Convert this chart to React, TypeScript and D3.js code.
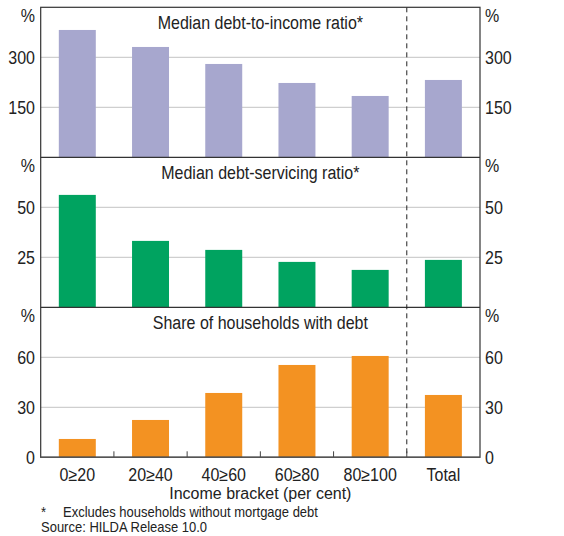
import React from "react";
import * as d3 from "d3";

const categories = ["0≥20", "20≥40", "40≥60", "60≥80", "80≥100", "Total"];
const debtToIncome = [382, 331, 280, 223, 184, 232];
const debtServicing = [56.2, 33.2, 28.7, 22.7, 18.7, 23.7];
const shareWithDebt = [11.0, 22.4, 38.6, 55.4, 60.8, 37.4];

const panelTitles = [
  "Median debt-to-income ratio*",
  "Median debt-servicing ratio*",
  "Share of households with debt",
];
const panelMax = [450, 75, 90];
const panelTicks = [[150, 300], [25, 50], [0, 30, 60]];
const panelColors = ["#A7A7CE", "#00A360", "#F39222"];
const panelData = [debtToIncome, debtServicing, shareWithDebt];

const W = 564;
const H = 536;
const left = 40.7;
const right = 480;
const top0 = 7.3;
const panelH = 150;
const font = "'Liberation Sans', Arial, sans-serif";

function T({ x, y, size = 16, sy = 1.13, anchor = "start", children }: any) {
  return (
    <text
      transform={`translate(${x},${y}) scale(1,${sy})`}
      textAnchor={anchor}
      fontSize={size}
      fill="#222"
    >
      {children}
    </text>
  );
}

export default function App() {
  const x = d3.scaleBand<string>().domain(categories).range([left, right]).paddingInner(0.495).paddingOuter(0.2475);
  const band = d3.scaleBand<string>().domain(categories).range([left, right]).padding(0);
  const dashX = band("Total")!;
  const bottom = top0 + 3 * panelH;

  return (
    <svg width={W} height={H} style={{ position: "absolute", left: 0, top: 0, background: "#fff" }} fontFamily={font}>
      {panelData.map((data, pi) => {
        const pTop = top0 + pi * panelH;
        const y = d3.scaleLinear().domain([0, panelMax[pi]]).range([pTop + panelH, pTop]);
        return (
          <g key={pi}>
            {panelTicks[pi].filter((t) => t > 0).map((t) => (
              <line key={t} x1={left} x2={right} y1={y(t)} y2={y(t)} stroke="#c4c4c4" strokeWidth={1} />
            ))}
            {data.map((v, i) => (
              <rect key={i} x={x(categories[i])!} width={x.bandwidth()} y={y(v)} height={y(0) - y(v)} fill={panelColors[pi]} />
            ))}
            <T x={(left + right) / 2} y={pTop + 22} anchor="middle">{panelTitles[pi]}</T>
            <T x={35} y={pTop + 15} anchor="end">%</T>
            <T x={485} y={pTop + 15}>%</T>
            {panelTicks[pi].map((t) => (
              <g key={"l" + t}>
                <T x={35} y={y(t) + 6.5} anchor="end">{t}</T>
                <T x={485} y={y(t) + 6.5}>{t}</T>
              </g>
            ))}
            {pi > 0 && (
              <line x1={left} x2={right} y1={pTop} y2={pTop} stroke="#333" strokeWidth={1.2} />
            )}
          </g>
        );
      })}
      <line x1={dashX} x2={dashX} y1={top0} y2={bottom} stroke="#222" strokeWidth={1} strokeDasharray="5,4" />
      {categories.slice(1).map((c) => (
        <line key={c} x1={band(c)!} x2={band(c)!} y1={bottom} y2={bottom - 6} stroke="#444" strokeWidth={1} />
      ))}
      <rect x={left} y={top0} width={right - left} height={bottom - top0} fill="none" stroke="#333" strokeWidth={1.2} />
      <line x1={left} x2={right} y1={bottom} y2={bottom} stroke="#555" strokeWidth={1.5} />
      {categories.map((c) => (
        <T key={c} x={band(c)! + band.bandwidth() / 2} y={480.5} anchor="middle">{c}</T>
      ))}
      <T x={(left + right) / 2} y={499} anchor="middle" sy={1.08}>Income bracket (per cent)</T>
      <T x={41} y={517} size={13} sy={1.1}>*</T>
      <T x={63} y={517} size={13} sy={1.1}>Excludes households without mortgage debt</T>
      <T x={41} y={532} size={13} sy={1.1}>Source: HILDA Release 10.0</T>
    </svg>
  );
}
